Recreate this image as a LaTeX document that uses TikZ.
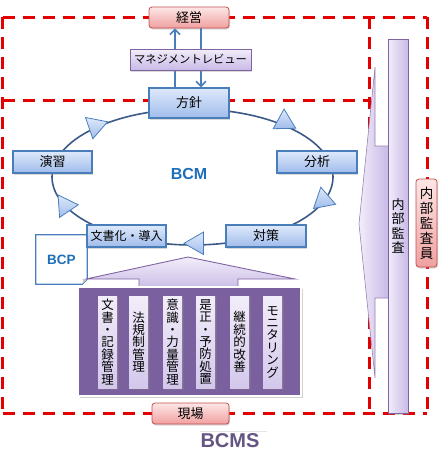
\documentclass[tikz,border=0pt]{standalone}
\usepackage{fontspec}
\setmainfont{Liberation Sans}
\newfontfamily\jp{Noto Sans CJK JP}
\usetikzlibrary{shapes.geometric,arrows.meta,shadows}
\definecolor{blueborder}{RGB}{74,126,187}
\definecolor{bluetop}{RGB}{222,233,251}
\definecolor{bluebot}{RGB}{160,188,235}
\definecolor{pinkborder}{RGB}{192,80,77}
\definecolor{pinktop}{RGB}{253,230,230}
\definecolor{pinkbot}{RGB}{240,160,160}
\definecolor{lavborder}{RGB}{128,100,162}
\definecolor{lavtop}{RGB}{242,237,250}
\definecolor{lavbot}{RGB}{200,186,230}
\definecolor{purplefill}{RGB}{122,96,158}
\definecolor{cyclecol}{RGB}{60,90,135}
\definecolor{redd}{RGB}{228,0,0}
\definecolor{bcmblue}{RGB}{30,110,185}
\definecolor{bcmsgray}{RGB}{100,85,130}
\begin{document}
\begin{tikzpicture}[x=1pt,y=-1pt,
  shad/.style={drop shadow={shadow xshift=1pt,shadow yshift=-1.5pt,opacity=0.3}},
  jpt/.style={font=\jp\fontsize{13}{15}\selectfont},
  bluebox/.style={draw=blueborder,line width=1.2pt,top color=bluetop,bottom color=bluebot,minimum width=80pt,minimum height=22pt,inner sep=1pt,jpt,shad},
  pinkbox/.style={draw=pinkborder,line width=0.8pt,rounded corners=3pt,top color=pinktop,bottom color=pinkbot,minimum width=80pt,minimum height=21pt,inner sep=1pt,jpt,shad},
  lavbox/.style={draw=lavborder,line width=0.8pt,top color=lavtop,bottom color=lavbot,inner sep=1pt,jpt,shad},
  reddash/.style={draw=redd,line width=3pt,dash pattern=on 12pt off 8pt},
  cyc/.style={draw=cyclecol,line width=1.6pt},
  cyctri/.style={regular polygon,regular polygon sides=3,minimum size=26pt,inner sep=0pt,draw=blueborder,line width=0.8pt,top color=bluetop,bottom color=bluebot},
  linkarrow/.style={draw=blueborder,line width=1.6pt,-{Straight Barb[length=5pt,width=10pt]}},
  colbox/.style={top color=lavtop,bottom color=lavbot!80,minimum width=19pt,minimum height=92pt,inner sep=0pt,align=center,font=\jp\fontsize{12.5}{12.4}\selectfont,drop shadow={shadow xshift=1.5pt,shadow yshift=-1.5pt,opacity=0.4}}
]
\useasboundingbox (0,0) rectangle (447,456);
% red dashed frames
\draw[reddash] (2.5,17) -- (427,17);
\draw[reddash] (2.5,17) -- (2.5,413);
\draw[reddash] (2.5,413) -- (427,413);
\draw[reddash] (427,17) -- (427,413);
\draw[reddash] (2.5,100) -- (369,100);
\draw[reddash] (369,17) -- (369,413);
% cycle
\draw[cyc] (192.5,177) ellipse [x radius=140.5, y radius=68];
\node[cyctri,rotate=-71] (t1) at (95.3,126) {};
\node[cyctri,rotate=-119] (t2) at (284.3,122) {};
\node[cyctri,rotate=131] (t3) at (323.3,200) {};
\node[cyctri,rotate=90] (t4) at (197,243.3) {};
\node[cyctri,rotate=34] (t5) at (65.3,205.7) {};
% top nodes
\node[pinkbox] (kei) at (189,17.5) {経営};
\node[bluebox,minimum height=30pt] (hoshin) at (189,103) {方針};
\draw[linkarrow] ([xshift=-14pt]hoshin.north) -- ([xshift=-14pt]kei.south);
\draw[linkarrow] ([xshift=12pt]kei.south) -- ([xshift=12pt]hoshin.north);
\node[lavbox,minimum width=121pt,minimum height=21pt,font=\jp\fontsize{11.3}{13}\selectfont] (rev) at (190.5,59.5) {マネジメントレビュー};
% cycle nodes
\node[bluebox,minimum width=79pt] (enshu) at (52.5,162) {演習};
\node[bluebox] (bunseki) at (317,162) {分析};
\node[bluebox] (taisaku) at (266,236) {対策};
% BCP document
\node[minimum width=51pt,minimum height=49pt,inner sep=0pt,text=bcmblue,font=\bfseries\fontsize{13.5}{15}\selectfont] (bcp) at (61.5,259.5) {BCP};
\draw[draw=blueborder,line width=1.2pt,fill=white] (bcp.north west) -- (bcp.north east) -- ([yshift=5pt]bcp.south east) -- ([xshift=-5pt]bcp.south east) -- (bcp.south west) -- cycle;
\fill[gray!45] ([yshift=5pt]bcp.south east) -- ([xshift=-5pt]bcp.south east) -- ([xshift=-4pt,yshift=4pt]bcp.south east) -- cycle;
\node[text=bcmblue,font=\bfseries\fontsize{13.5}{15}\selectfont] at (bcp.center) {BCP};
\node[bluebox,minimum width=79pt,font=\jp\fontsize{12}{14}\selectfont] (bunsho) at (126.5,236) {文書化・導入};
\node[text=bcmblue,font=\bfseries\fontsize{16}{18}\selectfont] (bcm) at (189,174) {BCM};
% purple up arrow
\draw[draw=lavborder,line width=0.9pt,top color=lavtop,bottom color=lavbot] (188,257) -- (295,279) -- (238,279) -- (238,290) -- (139,290) -- (139,279) -- (86,279) -- cycle;
% purple box
\node[draw=white,line width=2pt,fill=purplefill,minimum width=223pt,minimum height=109pt,inner sep=0pt,drop shadow={shadow xshift=2pt,shadow yshift=-2pt,opacity=0.35}] (field) at (189.5,341.5) {};
\node[colbox] (c1) at (107.5,342) {文\\書\\・\\記\\録\\管\\理};
\node[colbox] (c2) at (138.5,342) {法\\規\\制\\管\\理};
\node[colbox] (c3) at (172.5,342) {意\\識\\・\\力\\量\\管\\理};
\node[colbox] (c4) at (205.5,342) {是\\正\\・\\予\\防\\処\\置};
\node[colbox] (c5) at (239.5,342) {継\\続\\的\\改\\善};
\node[colbox] (c6) at (272.5,342) {モ\\ニ\\タ\\リ\\ン\\グ};
\node[pinkbox,minimum width=77pt] (genba) at (190.5,413.5) {現場};
% BCMS
\draw[gray!20,line width=1pt] (200,431) -- (267,431);
\node[text=bcmsgray,font=\bfseries\fontsize{20}{22}\selectfont] (bcms) at (230,440.5) {BCMS};
% internal audit
\draw[draw=lavborder!80,line width=0.6pt,left color=lavtop,right color=lavbot] (388,146) -- (375,146) -- (375,67) -- (359,224) -- (375,378) -- (375,298) -- (388,298);
\node[lavbox,minimum width=20pt,minimum height=374pt,align=center,font=\jp\fontsize{13}{14.5}\selectfont,left color=lavtop,right color=lavbot] (audit) at (398,226) {内\\部\\監\\査};
\node[pinkbox,minimum width=21pt,minimum height=88pt,align=center,font=\jp\fontsize{13.5}{15}\selectfont] (auditor) at (426.5,223) {内\\部\\監\\査\\員};
\end{tikzpicture}
\end{document}
